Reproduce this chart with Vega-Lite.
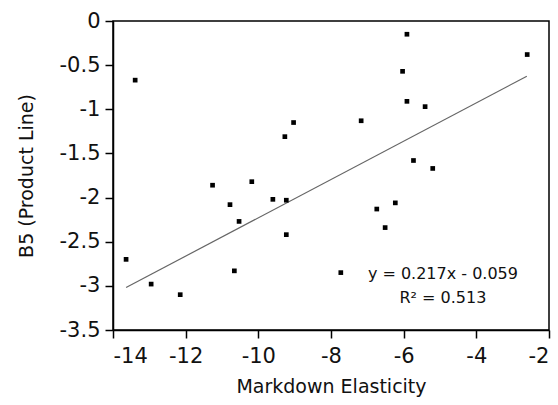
{
  "$schema": "https://vega.github.io/schema/vega-lite/v6.json",
  "width": 436,
  "height": 309,
  "autosize": {"type": "none"},
  "padding": {"left": 113, "top": 21, "right": 9, "bottom": 75},
  "background": "white",
  "config": {
    "view": {"stroke": "#000", "strokeWidth": 1.5},
    "font": "DejaVu Sans",
    "axis": {
      "grid": false,
      "domainColor": "#000",
      "domainWidth": 1.5,
      "tickColor": "#000",
      "tickWidth": 1.5,
      "tickSize": 8,
      "labelColor": "#111",
      "titleColor": "#111",
      "labelFont": "DejaVu Sans",
      "titleFont": "DejaVu Sans",
      "labelFontSize": 21,
      "titleFontSize": 19,
      "titleFontWeight": "normal"
    }
  },
  "datasets": {
    "points": [
      {"x": -13.39, "y": -0.67},
      {"x": -9.03, "y": -1.15},
      {"x": -9.27, "y": -1.31},
      {"x": -11.26, "y": -1.86},
      {"x": -10.18, "y": -1.82},
      {"x": -9.6, "y": -2.02},
      {"x": -9.23, "y": -2.03},
      {"x": -10.78, "y": -2.08},
      {"x": -10.53, "y": -2.27},
      {"x": -9.23, "y": -2.42},
      {"x": -13.64, "y": -2.7},
      {"x": -10.66, "y": -2.83},
      {"x": -12.95, "y": -2.98},
      {"x": -12.15, "y": -3.1},
      {"x": -5.91, "y": -0.15},
      {"x": -2.6, "y": -0.38},
      {"x": -6.03, "y": -0.57},
      {"x": -5.91, "y": -0.91},
      {"x": -5.41, "y": -0.97},
      {"x": -7.17, "y": -1.13},
      {"x": -5.73, "y": -1.58},
      {"x": -5.2, "y": -1.67},
      {"x": -6.23, "y": -2.06},
      {"x": -6.74, "y": -2.13},
      {"x": -6.51, "y": -2.34},
      {"x": -7.73, "y": -2.85}
    ],
    "fit": [
      {"x": -13.64, "y": -3.019},
      {"x": -2.61, "y": -0.625}
    ],
    "notes": [
      {"x": -4.92, "y": -2.865, "label": "y = 0.217x - 0.059"},
      {"x": -4.92, "y": -3.14, "label": "R² = 0.513"}
    ]
  },
  "layer": [
    {
      "data": {"name": "fit"},
      "mark": {"type": "line", "color": "#666", "strokeWidth": 1.2},
      "encoding": {
        "x": {"field": "x", "type": "quantitative"},
        "y": {"field": "y", "type": "quantitative"}
      }
    },
    {
      "data": {"name": "points"},
      "mark": {"type": "point", "shape": "square", "filled": true, "color": "#000", "size": 22, "opacity": 1},
      "encoding": {
        "x": {
          "field": "x",
          "type": "quantitative",
          "scale": {"domain": [-14, -2], "nice": false, "zero": false},
          "axis": {"values": [-14, -12, -10, -8, -6, -4, -2], "title": "Markdown Elasticity", "labelPadding": 7, "titlePadding": 11, "labelExpr": "toString(datum.value)"}
        },
        "y": {
          "field": "y",
          "type": "quantitative",
          "scale": {"domain": [-3.5, 0], "nice": false, "zero": false},
          "axis": {"values": [-3.5, -3, -2.5, -2, -1.5, -1, -0.5, 0], "title": "B5 (Product Line)", "labelPadding": 5, "titlePadding": 23, "labelExpr": "toString(datum.value)"}
        }
      }
    },
    {
      "data": {"name": "notes"},
      "mark": {"type": "text", "fontSize": 16, "color": "#111", "align": "center", "baseline": "middle", "font": "DejaVu Sans"},
      "encoding": {
        "x": {"field": "x", "type": "quantitative"},
        "y": {"field": "y", "type": "quantitative"},
        "text": {"field": "label"}
      }
    }
  ]
}
